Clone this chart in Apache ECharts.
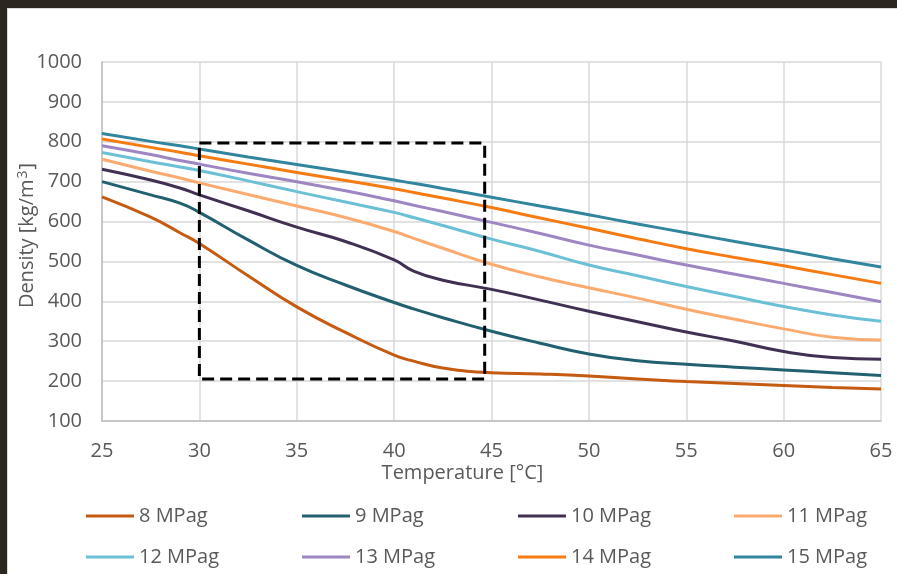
<!DOCTYPE html>
<html>
<head>
<meta charset="utf-8">
<script src="https://cdn.jsdelivr.net/npm/echarts@6/dist/echarts.min.js"></script>
<style>
html,body{margin:0;padding:0;background:#fff;}
#chart{width:897px;height:574px;}
</style>
</head>
<body>
<div id="chart"></div>
<script>
// Temperatures [°C]
var temps = [25, 27.5, 29, 30, 32.5, 35, 37.5, 40, 41, 42.5, 45, 47.5, 50, 52.5, 55, 57.5, 60, 62.5, 65];
var seriesNames = ['8 MPag','9 MPag','10 MPag','11 MPag','12 MPag','13 MPag','14 MPag','15 MPag'];
// Density [kg/m3]
var p8  = [662, 611, 572, 545, 464, 386, 322, 265, 250, 233, 221, 218, 213, 205, 199, 194, 189, 184, 180];
var p9  = [700, 667, 646, 623, 554, 490, 441, 397, 381, 359, 325, 295, 268, 251, 242, 235, 228, 221, 214];
var p10 = [731, 704, 684, 667, 627, 586, 550, 504, 476, 453, 430, 403, 375, 349, 323, 300, 274, 259, 255];
var p11 = [756, 726, 709, 697, 668, 639, 610, 575, 558, 533, 493, 461, 434, 408, 380, 355, 331, 310, 303];
var p12 = [773, 750, 737, 728, 702, 675, 649, 623, 610, 590, 556, 525, 491, 464, 437, 412, 387, 366, 350];
var p13 = [790, 768, 753, 744, 721, 700, 677, 652, 641, 625, 598, 570, 541, 516, 491, 468, 445, 422, 399];
var p14 = [807, 786, 774, 765, 744, 723, 703, 682, 673, 659, 635, 609, 583, 557, 532, 510, 489, 467, 445];
var p15 = [821, 801, 790, 782, 762, 743, 724, 704, 696, 683, 661, 639, 617, 594, 572, 550, 529, 507, 486];
// Dashed highlight box corners
var boxT = [30, 44.65];
var boxD = [205, 797];
var xTicks = [25, 30, 35, 40, 45, 50, 55, 60, 65];
var yTicks = [100, 200, 300, 400, 500, 600, 700, 800, 900, 1000];

var colors = ['#c55a11','#23606f','#403152','#fbab70','#6cc0d6','#9e86c2','#f67b12','#31859c'];
var allVals = [p8,p9,p10,p11,p12,p13,p14,p15];

var font = 'Open Sans';
var txt = '#595959';
var fs = 20;

var series = allVals.map(function(vals, i){
  return {
    name: seriesNames[i],
    type: 'line',
    data: temps.map(function(t, j){ return [t, vals[j]]; }),
    smooth: 0.5,
    symbol: 'none',
    lineStyle: {width: 3, color: colors[i]},
    itemStyle: {color: colors[i]},
    z: 3
  };
});
series.push({
  name: 'box',
  type: 'line',
  data: [[boxT[0], boxD[1]], [boxT[1], boxD[1]], [boxT[1], boxD[0]], [boxT[0], boxD[0]], [boxT[0], boxD[1]]],
  symbol: 'none',
  silent: true,
  lineStyle: {width: 3, color: '#000', type: [12, 6]},
  z: 4
});

var legendLefts = [86, 302, 518, 734];
var legendTops = [504, 545];
var legends = seriesNames.map(function(n, i){
  return {
    left: legendLefts[i % 4],
    top: legendTops[Math.floor(i / 4)],
    data: [n],
    icon: 'rect',
    itemWidth: 48,
    itemHeight: 3,
    selectedMode: false,
    padding: 0,
    textStyle: {fontFamily: font, fontSize: fs, color: txt, lineHeight: 24}
  };
});

var chart = echarts.init(document.getElementById('chart'), null, {renderer: 'canvas'});
chart.setOption({
  backgroundColor: '#ffffff',
  animation: false,
  graphic: [
    {type: 'rect', shape: {x: 0, y: 0, width: 897, height: 8}, style: {fill: '#2b2620'}, z: 100, silent: true},
    {type: 'rect', shape: {x: 0, y: 0, width: 7, height: 574}, style: {fill: '#2b2620'}, z: 100, silent: true},
    {type: 'line', shape: {x1: 7.5, y1: 8, x2: 7.5, y2: 574}, style: {stroke: '#d9d9d9', lineWidth: 1}, z: 100, silent: true},
    {type: 'line', shape: {x1: 7, y1: 8.5, x2: 897, y2: 8.5}, style: {stroke: '#d9d9d9', lineWidth: 1}, z: 100, silent: true}
  ],
  grid: {left: 102, right: 16, top: 62, bottom: 153, containLabel: false, outerBoundsMode: 'none'},
  legend: legends,
  xAxis: {
    type: 'value',
    min: xTicks[0],
    max: xTicks[xTicks.length-1],
    interval: 5,
    name: 'Temperature [°C]',
    nameLocation: 'middle',
    nameGap: 42,
    nameMoveOverlap: false,
    nameTextStyle: {fontFamily: font, fontSize: fs, color: txt, padding: [0, 58, 0, 0]},
    axisLine: {show: true, lineStyle: {color: '#bfbfbf', width: 1.5}},
    axisTick: {show: false},
    axisLabel: {fontFamily: font, fontSize: fs, color: txt, margin: 20},
    splitLine: {show: true, lineStyle: {color: '#d9d9d9', width: 1.5}}
  },
  yAxis: {
    type: 'value',
    min: yTicks[0],
    max: yTicks[yTicks.length-1],
    interval: 100,
    name: '{a|Density [kg/m}{s|3}{a|]}',
    nameLocation: 'middle',
    nameRotate: 90,
    nameGap: 64,
    nameMoveOverlap: false,
    nameTextStyle: {
      fontFamily: font, fontSize: fs, color: txt, padding: [0, 0, 0, 12],
      rich: {
        a: {fontFamily: font, fontSize: fs, color: txt},
        s: {fontFamily: font, fontSize: 14, color: txt, verticalAlign: 'top', padding: [0, 1, 8, 1]}
      }
    },
    axisLine: {show: true, lineStyle: {color: '#bfbfbf', width: 1.5}},
    axisTick: {show: false},
    axisLabel: {fontFamily: font, fontSize: fs, color: txt, margin: 20, formatter: function(v){ return String(v); }},
    splitLine: {show: true, lineStyle: {color: '#d9d9d9', width: 1.5}}
  },
  series: series
});
</script>
</body>
</html>
